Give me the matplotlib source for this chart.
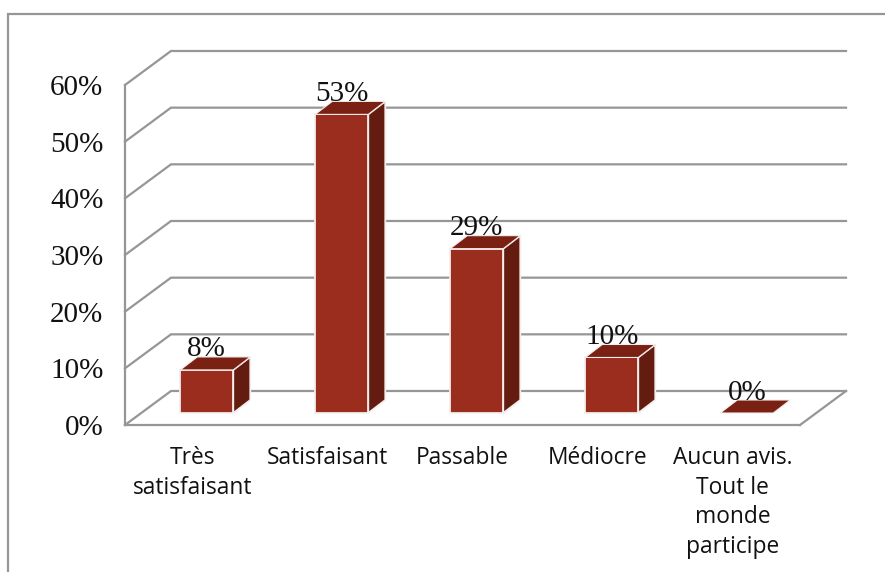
import matplotlib
matplotlib.use("Agg")
import matplotlib.pyplot as plt
from matplotlib.patches import Polygon, Rectangle

categories = ["Très\nsatisfaisant", "Satisfaisant", "Passable", "Médiocre",
              "Aucun avis.\nTout le\nmonde\nparticipe"]
values = [7.6, 52.7, 29, 9.8, 0]
value_labels = ["8%", "53%", "29%", "10%", "0%"]
y_ticks = [0, 10, 20, 30, 40, 50, 60]

W, H = 885, 572
GRAY = "#969696"
FRONT, TOP, SIDE = "#9b2d1f", "#7a2114", "#641b10"

fig = plt.figure(figsize=(W / 100, H / 100), dpi=100, facecolor="white")
fig.add_artist(Rectangle((8 / W, -0.02), 1.0, 1.02 - 14 / H, transform=fig.transFigure,
                         fill=False, ec=GRAY, lw=1.6))
ax = fig.add_axes([125 / W, (H - 425) / H, 675 / W, 340 / H])
ax.set_xlim(0, 5)
ax.set_ylim(0, 60)
ax.patch.set_alpha(0)
for s in ["top", "right"]:
    ax.spines[s].set_visible(False)
for s in ["left", "bottom"]:
    ax.spines[s].set_color(GRAY)
    ax.spines[s].set_linewidth(1.6)
    ax.spines[s].set_zorder(2)

# depth of the 3D box, in data units
wx, wy = 46 / 135, 34 / (340 / 60)
for t in y_ticks:
    ax.plot([0, wx, 5 + wx], [t, t + wy, t + wy], color=GRAY, lw=1.6,
            clip_on=False, zorder=1, solid_joinstyle="miter")
ax.plot([5, 5 + wx], [0, wy], color=GRAY, lw=1.6, clip_on=False, zorder=1)

# bars
bw = 53 / 135
off = 0.5 + 14 / 135 - bw / 2 + 0.002
by = 12 / (340 / 60)
dx, dy = 17 / 135, 13 / (340 / 60)
for i, (v, lab) in enumerate(zip(values, value_labels)):
    x0 = i + off
    x1, y0, y1 = x0 + bw, by, by + v
    kw = dict(ec="#f4eeec", lw=1.3, clip_on=False, zorder=3, joinstyle="miter")
    if v > 0:
        ax.add_patch(Polygon([(x1, y0), (x1 + dx, y0 + dy), (x1 + dx, y1 + dy), (x1, y1)], fc=SIDE, **kw))
        ax.add_patch(Polygon([(x0, y0), (x1, y0), (x1, y1), (x0, y1)], fc=FRONT, **kw))
    ax.add_patch(Polygon([(x0, y1), (x1, y1), (x1 + dx, y1 + dy), (x0 + dx, y1 + dy)], fc=TOP,
                         ec="#f4eeec", lw=0.8, clip_on=False, zorder=3))
    ax.annotate(lab, (x0 + bw / 2, y1 + dy), xytext=(0, -4), textcoords="offset points",
                ha="center", va="bottom", family="Liberation Serif", fontsize=21, color="#111111",
                zorder=4, annotation_clip=False)

ax.set_xticks([i + 0.5 for i in range(5)], categories)
ax.set_yticks(y_ticks, [f"{t}%" for t in y_ticks])
ax.tick_params(axis="both", length=0)
ax.tick_params(axis="y", pad=15.5, labelsize=21, labelcolor="#111111")
ax.tick_params(axis="x", pad=15, labelsize=16.4, labelcolor="#111111")
for t in ax.get_yticklabels():
    t.set_family("Liberation Serif")
for t in ax.get_xticklabels():
    t.set_family("Open Sans")
    t.set_linespacing(1.32)

fig.savefig("out.png", dpi=100, facecolor="white")
